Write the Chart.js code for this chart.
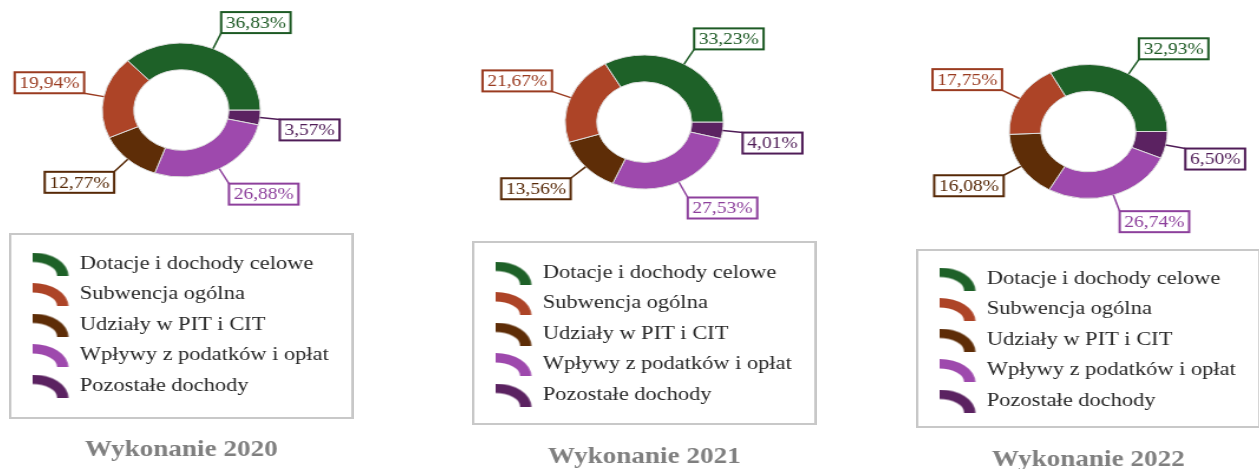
<!DOCTYPE html>
<html>
<head>
<meta charset="utf-8">
<script src="https://cdn.jsdelivr.net/npm/chart.js@4.4.1/dist/chart.umd.min.js"></script>
<style>
html,body{margin:0;padding:0;background:#fff;width:1259px;height:469px;overflow:hidden;}
.panel{position:absolute;top:0;transform:scaleX(1.18);transform-origin:0 0;}
</style>
</head>
<body>
<div class="panel" style="left:9px"><canvas id="chart0" width="292" height="475"></canvas></div>
<div class="panel" style="left:472px"><canvas id="chart1" width="292" height="475"></canvas></div>
<div class="panel" style="left:916px"><canvas id="chart2" width="292" height="475"></canvas></div>
<script>
var kategorie = ["Dotacje i dochody celowe", "Subwencja ogólna", "Udziały w PIT i CIT", "Wpływy z podatków i opłat", "Pozostałe dochody"];
var tytuly = ["Wykonanie 2020", "Wykonanie 2021", "Wykonanie 2022"];
var wartosci2020 = [36.83, 19.94, 12.77, 26.88, 3.57];
var wartosci2021 = [33.23, 21.67, 13.56, 27.53, 4.01];
var wartosci2022 = [32.93, 17.75, 16.08, 26.74, 6.50];
var kolory = ["#1e6128", "#ad4427", "#5e2d07", "#9e49ad", "#5b2261"];
var koloryEtykiet = ["#1d5a24", "#9a3b20", "#562806", "#8d409c", "#4f1c57"];

// polozenie elementow kazdego panelu (w pikselach strony, pionowo)
var panele = [
	{srodekY:110, wiersz1:264, tytulY:450, ramkaGora:234, ramkaDol:418},
	{srodekY:122, wiersz1:273, tytulY:457, ramkaGora:242, ramkaDol:424},
	{srodekY:131.5, wiersz1:279, tytulY:460, ramkaGora:250, ramkaDol:427}
];

Chart.defaults.font.family = '"Liberation Serif", "Times New Roman", serif';

var rozmiarCzcionki = 19;
var odstep = 11.5;
var wysokoscCanvas = 475;
var kolorTekstu = "#262626";

function ikona(kolor){
	var c = document.createElement("canvas");
	c.width = 31; c.height = 23;
	var ctx = c.getContext("2d");
	ctx.fillStyle = kolor;
	ctx.beginPath();
	ctx.ellipse(0, 23, 30.5, 23, 0, -Math.PI/2, 0);
	ctx.ellipse(0, 23, 21, 13.5, 0, 0, -Math.PI/2, true);
	ctx.closePath();
	ctx.fill();
	return c;
}
var ikony = kolory.map(ikona);

var etykietyPlugin = {
	id: "etykiety",
	afterDatasetsDraw: function(chart){
		var ctx = chart.ctx;
		var ds = chart.data.datasets[0];
		var meta = chart.getDatasetMeta(0);
		ctx.save();
		ctx.font = '16.5px "Liberation Serif"';
		meta.data.forEach(function(arc, i){
			var p = arc.getProps(["x","y","startAngle","endAngle","outerRadius"], true);
			var kat = (p.startAngle + p.endAngle)/2;
			var cos = Math.cos(kat), sin = Math.sin(kat);
			var ax = p.x + cos*p.outerRadius, ay = p.y + sin*p.outerRadius;
			var ex = p.x + cos*(p.outerRadius+17), ey = p.y + sin*(p.outerRadius+17);
			var kolor = ds.koloryEtykiet[i];
			var tekst = ds.data[i].toFixed(2).replace(".", ",") + "%";
			var w = ctx.measureText(tekst).width + 8;
			var h = 21;
			var bx = cos >= 0 ? ex : ex - w;
			var by = sin >= 0 ? ey : ey - h;
			ctx.strokeStyle = kolor;
			ctx.lineWidth = 1.5;
			ctx.beginPath();
			ctx.moveTo(ax, ay);
			ctx.lineTo(ex, ey);
			ctx.stroke();
			ctx.fillStyle = "#fff";
			ctx.fillRect(bx, by, w, h);
			ctx.lineWidth = 2;
			ctx.strokeRect(bx, by, w, h);
			ctx.fillStyle = kolor;
			ctx.textAlign = "center";
			ctx.textBaseline = "middle";
			ctx.fillText(tekst, bx + w/2, by + h/2 + 1);
		});
		ctx.restore();
	}
};

var ramkaPlugin = {
	id: "ramka",
	afterDraw: function(chart, args, opts){
		var ctx = chart.ctx;
		ctx.save();
		ctx.strokeStyle = "#c8c8c8";
		ctx.lineWidth = 2;
		ctx.strokeRect(1, opts.gora, chart.width - 2, opts.dol - opts.gora);
		ctx.restore();
	}
};

function rysuj(idx, wartosci){
	var p = panele[idx];
	var polowa = rozmiarCzcionki/2 + odstep;
	var tH = Math.max(0, p.wiersz1 - polowa - 2*p.srodekY + 2);
	var dolObszaru = p.wiersz1 - polowa - tH;
	var gora = 2*p.srodekY - dolObszaru;
	var wysLegendy = tH + 5*(rozmiarCzcionki + odstep) + 10;
	var pol = 23*1.2/2;
	var padTytulu = p.tytulY - pol - (dolObszaru + wysLegendy);
	var padDol = wysokoscCanvas - p.tytulY - pol;

	var dane = wartosci.slice().reverse();
	var kol = kolory.slice().reverse();
	var kolEt = koloryEtykiet.slice().reverse();
	var etyk = kategorie.slice().reverse();

	var canvas = document.getElementById("chart" + idx).getContext("2d");
	new Chart(canvas, {
		type: "doughnut",
		data: {
			labels: etyk,
			datasets: [{
				data: dane,
				backgroundColor: kol,
				koloryEtykiet: kolEt,
				borderColor: "#dcdcdc",
				borderWidth: 1
			}]
		},
		options: {
			responsive: false,
			animation: false,
			devicePixelRatio: 1,
			rotation: 90,
			radius: 67,
			cutout: "60%",
			layout: { padding: { top: gora, left: 8.5, right: 8.5, bottom: padDol } },
			plugins: {
				tooltip: { enabled: false },
				legend: {
					position: "bottom",
					align: "start",
					title: { display: tH > 0, text: " ", color: kolorTekstu, font: { size: 1, lineHeight: 1 }, padding: { top: Math.max(0, tH - 1), bottom: 0 } },
					labels: {
						usePointStyle: true,
						pointStyleWidth: 30.5,
						padding: odstep,
						color: kolorTekstu,
						font: { size: rozmiarCzcionki },
						generateLabels: function(chart){
							return kategorie.map(function(k, i){
								return { text: k, fillStyle: kolory[i], strokeStyle: kolory[i], fontColor: kolorTekstu, lineWidth: 0, pointStyle: ikony[i], hidden: false, index: kategorie.length - 1 - i };
							});
						}
					}
				},
				title: {
					display: true,
					position: "bottom",
					text: tytuly[idx],
					color: "#7f7f7f",
					font: { size: 23, weight: "bold", lineHeight: 1.2 },
					padding: { top: padTytulu, bottom: 0 }
				},
				ramka: { gora: p.ramkaGora, dol: p.ramkaDol }
			}
		},
		plugins: [etykietyPlugin, ramkaPlugin]
	});
}

rysuj(0, wartosci2020);
rysuj(1, wartosci2021);
rysuj(2, wartosci2022);
</script>
</body>
</html>
